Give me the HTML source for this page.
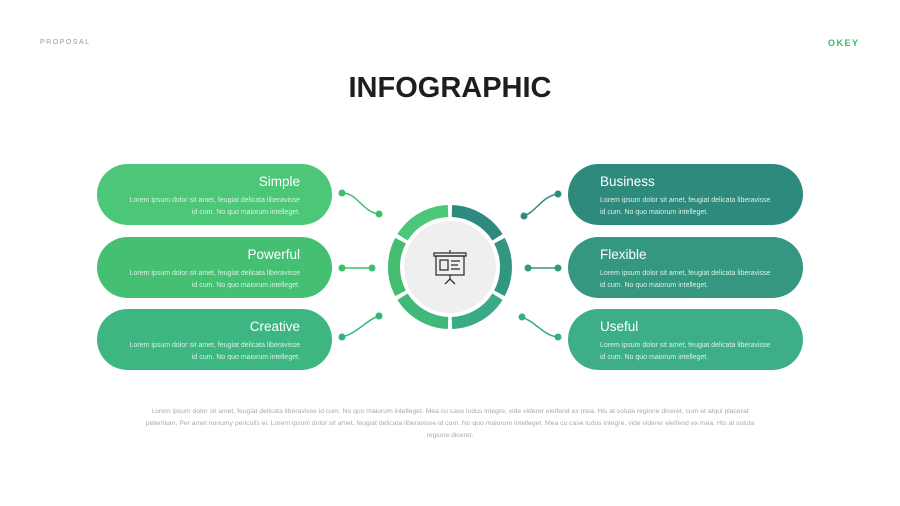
<!DOCTYPE html>
<html><head><meta charset="utf-8"><style>
body{margin:0;width:900px;height:506px;background:#fff;font-family:"Liberation Sans",sans-serif;position:relative;overflow:hidden}
.card{position:absolute;width:235px;height:61px;border-radius:31px;color:#fff}
.card h3{margin:0;position:absolute;top:10px;font-size:13.5px;font-weight:normal}
.card p{margin:0;position:absolute;top:31px;font-size:7px;line-height:12px;color:#d8f3e4;white-space:nowrap}
.l h3,.l p{right:32px;text-align:right}
.r h3,.r p{left:32px;text-align:left}
</style></head><body>
<div style="position:absolute;left:40px;top:39px;font-size:7px;letter-spacing:1.5px;color:#999">PROPOSAL</div>
<div style="position:absolute;left:828px;top:38px;font-size:9px;font-weight:bold;letter-spacing:1.5px;color:#2fbf5f">OKEY</div>
<div style="position:absolute;left:0;width:900px;top:72px;text-align:center;font-size:29px;font-weight:bold;color:#1e1e1e">INFOGRAPHIC</div>

<div class="card l" style="left:97px;top:164px;background:#4cc677"><h3>Simple</h3><p>Lorem ipsum dolor sit amet, feugiat delicata liberavisse<br>id cum. No quo maiorum intelleget.</p></div>
<div class="card l" style="left:97px;top:237px;background:#45bf72"><h3>Powerful</h3><p>Lorem ipsum dolor sit amet, feugiat delicata liberavisse<br>id cum. No quo maiorum intelleget.</p></div>
<div class="card l" style="left:97px;top:309px;background:#3db682"><h3>Creative</h3><p>Lorem ipsum dolor sit amet, feugiat delicata liberavisse<br>id cum. No quo maiorum intelleget.</p></div>
<div class="card r" style="left:568px;top:164px;background:#2f8a7e"><h3>Business</h3><p>Lorem ipsum dolor sit amet, feugiat delicata liberavisse<br>id cum. No quo maiorum intelleget.</p></div>
<div class="card r" style="left:568px;top:237px;background:#35977f"><h3>Flexible</h3><p>Lorem ipsum dolor sit amet, feugiat delicata liberavisse<br>id cum. No quo maiorum intelleget.</p></div>
<div class="card r" style="left:568px;top:309px;background:#3dae89"><h3>Useful</h3><p>Lorem ipsum dolor sit amet, feugiat delicata liberavisse<br>id cum. No quo maiorum intelleget.</p></div>

<svg width="900" height="506" style="position:absolute;left:0;top:0">
<g fill="none" stroke-width="1.5">
<path d="M342,193 C358,193 362,212 379,214" stroke="#3fbf6e"/>
<path d="M342,268 L372,268" stroke="#3fbf6e"/>
<path d="M342,337 C358,333 366,320 379,316" stroke="#35b47a"/>
<path d="M558,194 C542,196 536,212 524,216" stroke="#2f8a7e"/>
<path d="M528,268 L558,268" stroke="#33977f"/>
<path d="M522,317 C536,322 544,336 558,337" stroke="#3aab88"/>
</g>
<g>
<circle cx="342" cy="193" r="3.5" fill="#3fbf6e"/><circle cx="379" cy="214" r="3.5" fill="#3fbf6e"/>
<circle cx="342" cy="268" r="3.5" fill="#3fbf6e"/><circle cx="372" cy="268" r="3.5" fill="#3fbf6e"/>
<circle cx="342" cy="337" r="3.5" fill="#35b47a"/><circle cx="379" cy="316" r="3.5" fill="#35b47a"/>
<circle cx="558" cy="194" r="3.5" fill="#2f8a7e"/><circle cx="524" cy="216" r="3.5" fill="#2f8a7e"/>
<circle cx="558" cy="268" r="3.5" fill="#33977f"/><circle cx="528" cy="268" r="3.5" fill="#33977f"/>
<circle cx="558" cy="337" r="3.5" fill="#3aab88"/><circle cx="522" cy="317" r="3.5" fill="#3aab88"/>
</g>
<g fill="none" stroke-width="12">
<path d="M451.95,211.03 A56,56 0 0 1 497.49,237.32" stroke="#2e8a7e"/>
<path d="M499.45,240.71 A56,56 0 0 1 499.45,293.29" stroke="#33977f"/>
<path d="M497.49,296.68 A56,56 0 0 1 451.95,322.97" stroke="#3aab88"/>
<path d="M448.05,322.97 A56,56 0 0 1 402.51,296.68" stroke="#3fb87a"/>
<path d="M400.55,293.29 A56,56 0 0 1 400.55,240.71" stroke="#45bd70"/>
<path d="M402.51,237.32 A56,56 0 0 1 448.05,211.03" stroke="#4cc677"/>
</g>
<circle cx="450" cy="267" r="46" fill="#efefef"/>
<g fill="none" stroke="#333" stroke-width="1.3">
<line x1="450" y1="250" x2="450" y2="253"/>
<rect x="434" y="253" width="32" height="3"/>
<rect x="436" y="256" width="28" height="19"/>
<rect x="440" y="260" width="8" height="10"/>
<line x1="451" y1="261" x2="460" y2="261"/><line x1="451" y1="265" x2="458" y2="265"/><line x1="451" y1="269" x2="460" y2="269"/>
<line x1="450" y1="275" x2="450" y2="279"/><line x1="450" y1="279" x2="445" y2="284"/><line x1="450" y1="279" x2="455" y2="284"/>
</g>
</svg>
<div style="position:absolute;left:140px;width:620px;top:406px;text-align:center;font-size:6.8px;line-height:12px;color:#aaa">Lorem ipsum dolor sit amet, feugiat delicata liberavisse id cum. No quo maiorum intelleget. Mea cu case ludus integre, vide viderer eleifend ex mea. His at soluta regione diceret, cum et atqui placerat petentium. Per amet nonumy periculis ei. Lorem ipsum dolor sit amet, feugiat delicata liberavisse id cum. No quo maiorum intelleget. Mea cu case ludus integre, vide viderer eleifend ex mea. His at soluta regione diceret.</div>
</body></html>
